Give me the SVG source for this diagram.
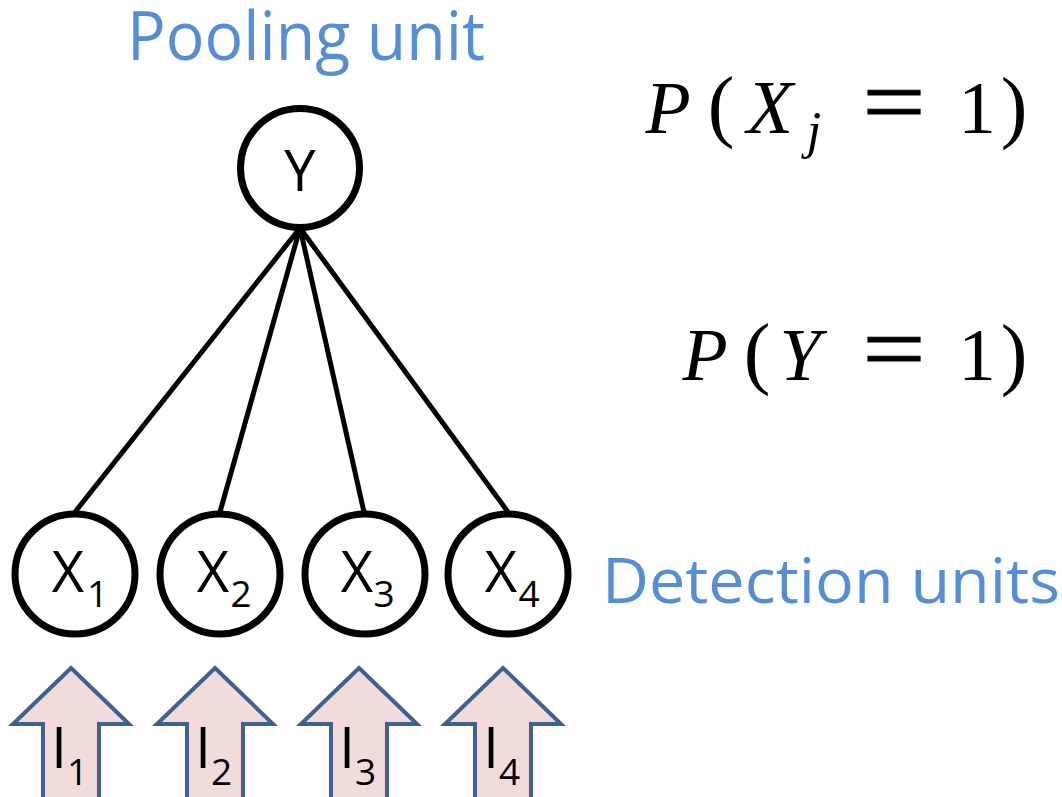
<svg xmlns="http://www.w3.org/2000/svg" width="1062" height="797" viewBox="0 0 1062 797">
  <style>
    .unit { fill: #ffffff; stroke: #000000; stroke-width: 7; }
    .edge { stroke: #000000; stroke-width: 5; fill: none; }
    .lbl { font-family: "Open Sans", "Liberation Sans", sans-serif; fill: #000000; text-anchor: middle; }
    .big { font-size: 56px; }
    .sub { font-size: 37px; }
    .caption { font-family: "Open Sans", "Liberation Sans", sans-serif; fill: #558ED5; }
    .input { fill: #F2DCDB; stroke: #41618C; stroke-width: 4; stroke-linejoin: miter; }
    .math { font-family: "Liberation Serif", "DejaVu Serif", serif; fill: #000000; text-anchor: middle; }
    .it { font-style: italic; }
    .eq { stroke: #000000; stroke-width: 0.8; }
  </style>
  <defs>
    <!-- upward block arrow centred on x=0 -->
    <path id="uparrow" d="M0,668 L58,724 L28,724 L28,810 L-28,810 L-28,724 L-58,724 Z"/>
  </defs>

  <rect width="1062" height="797" fill="#ffffff"/>

  <!-- connectors: pooling unit to each detection unit -->
  <g id="connectors">
    <line class="edge" x1="300" y1="228" x2="75" y2="512"/>
    <line class="edge" x1="300" y1="228" x2="220" y2="512"/>
    <line class="edge" x1="300" y1="228" x2="364" y2="512"/>
    <line class="edge" x1="300" y1="228" x2="508" y2="512"/>
  </g>

  <!-- pooling unit -->
  <g id="node-Y">
    <circle class="unit" cx="300" cy="168" r="59.5"/>
    <text class="lbl big" x="300" y="191">Y</text>
  </g>

  <!-- detection units -->
  <g id="node-X1">
    <circle class="unit" cx="75" cy="574" r="60"/>
    <text class="lbl big" x="68" y="592">X</text>
    <text class="lbl sub" x="97.5" y="607">1</text>
  </g>
  <g id="node-X2">
    <circle class="unit" cx="220" cy="574" r="60"/>
    <text class="lbl big" x="213" y="592">X</text>
    <text class="lbl sub" x="241" y="607">2</text>
  </g>
  <g id="node-X3">
    <circle class="unit" cx="365" cy="574" r="60"/>
    <text class="lbl big" x="357" y="592">X</text>
    <text class="lbl sub" x="384" y="607">3</text>
  </g>
  <g id="node-X4">
    <circle class="unit" cx="508" cy="574" r="60"/>
    <text class="lbl big" x="501" y="592">X</text>
    <text class="lbl sub" x="529" y="607">4</text>
  </g>

  <!-- inputs -->
  <g id="input-I1">
    <use href="#uparrow" class="input" x="71"/>
    <text class="lbl big" x="59" y="768">I</text>
    <text class="lbl sub" x="77.5" y="785">1</text>
  </g>
  <g id="input-I2">
    <use href="#uparrow" class="input" x="215"/>
    <text class="lbl big" x="203" y="768">I</text>
    <text class="lbl sub" x="221.5" y="785">2</text>
  </g>
  <g id="input-I3">
    <use href="#uparrow" class="input" x="359"/>
    <text class="lbl big" x="347" y="768">I</text>
    <text class="lbl sub" x="365.5" y="785">3</text>
  </g>
  <g id="input-I4">
    <use href="#uparrow" class="input" x="503"/>
    <text class="lbl big" x="491" y="768">I</text>
    <text class="lbl sub" x="509.5" y="785">4</text>
  </g>

  <!-- captions -->
  <text class="caption" x="127" y="60" font-size="67" textLength="358" lengthAdjust="spacingAndGlyphs">Pooling unit</text>
  <text class="caption" x="602" y="603" font-size="63" textLength="458" lengthAdjust="spacingAndGlyphs">Detection units</text>

  <!-- P(X_j = 1) -->
  <g id="formula-X">
    <text class="math it" x="668" y="133" font-size="74">P</text>
    <text class="math" x="721" y="132" font-size="80">(</text>
    <text class="math it" x="770" y="133" font-size="76">X</text>
    <text class="math it" x="814" y="148" font-size="52">j</text>
    <text class="math eq" x="894" y="133" font-size="72" transform="translate(894 133) scale(1.55 1.3) translate(-894 -133)">=</text>
    <text class="math" x="977" y="133" font-size="75">1</text>
    <text class="math" x="1014" y="133" font-size="80">)</text>
  </g>

  <!-- P(Y = 1) -->
  <g id="formula-Y">
    <text class="math it" x="705" y="380" font-size="74">P</text>
    <text class="math" x="757" y="379" font-size="80">(</text>
    <text class="math it" x="800" y="380" font-size="74">Y</text>
    <text class="math eq" x="894" y="380" font-size="72" transform="translate(894 380) scale(1.55 1.3) translate(-894 -380)">=</text>
    <text class="math" x="977" y="380" font-size="75">1</text>
    <text class="math" x="1014" y="380" font-size="80">)</text>
  </g>
</svg>
